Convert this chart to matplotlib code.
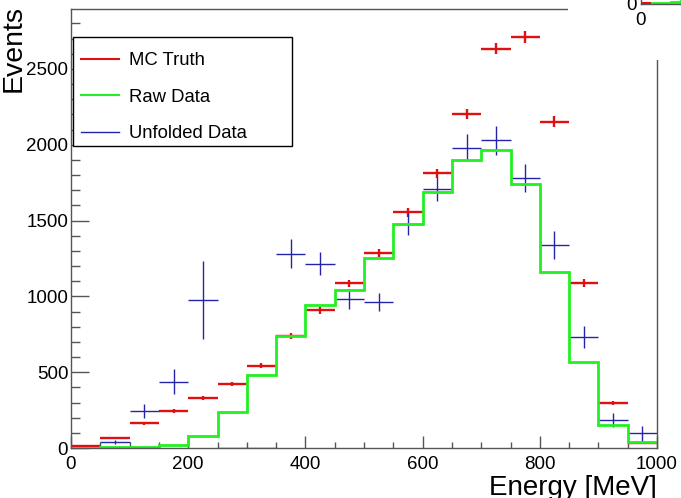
import matplotlib.pyplot as plt
import numpy as np
from matplotlib.lines import Line2D
from matplotlib.patches import Rectangle
from matplotlib.ticker import MultipleLocator

plt.rcParams["font.family"] = ["Liberation Sans", "DejaVu Sans"]

# 20 bins of 50 MeV from 0 to 1000
edges = np.arange(0, 1001, 50)
centers = edges[:-1] + 25

mc_truth = [10, 64, 164, 245, 329, 421, 544, 737, 908, 1085,
            1287, 1555, 1811, 2202, 2634, 2711, 2153, 1090, 298, 31]
mc_err = [2, 6, 10, 12, 14, 15, 17, 20, 23, 25,
          27, 30, 32, 35, 38, 39, 35, 25, 13, 4]

raw_data = [3, 5, 5, 20, 79, 235, 480, 737, 941, 1042,
            1250, 1474, 1689, 1901, 1967, 1743, 1158, 568, 149, 41]

unfolded = [0, 41, 245, 436, 974, 0, 0, 1281, 1215, 985,
            963, 1480, 1706, 1980, 2028, 1781, 1338, 732, 182, 97]
unfolded_err = [0, 13, 44, 82, 257, 0, 0, 95, 77, 66,
                60, 73, 80, 90, 93, 92, 90, 75, 46, 49]

red = "#e01010"
green = "#22f022"
blue = "#2424a8"
frame = "#555555"

W, H = 681, 498
fig = plt.figure(figsize=(W / 100, H / 100), dpi=100)
ax = fig.add_axes([71 / W, 1 - 448 / H, (657 - 71) / W, (448 - 9) / H])

ax.errorbar(centers, mc_truth, xerr=25, yerr=mc_err, fmt="none",
            ecolor=red, elinewidth=1.7, zorder=2)
ax.errorbar(centers, unfolded, xerr=25, yerr=unfolded_err, fmt="none",
            ecolor=blue, elinewidth=1.0, zorder=3)
ax.stairs(raw_data, edges, color=green, linewidth=2.0, baseline=None, zorder=4)

ax.set_xlim(0, 1000)
ax.set_ylim(0, 2895)
ax.xaxis.set_major_locator(MultipleLocator(200))
ax.xaxis.set_minor_locator(MultipleLocator(50))
ax.yaxis.set_major_locator(MultipleLocator(500))
ax.yaxis.set_minor_locator(MultipleLocator(100))
ax.tick_params(axis="both", which="both", direction="in", color=frame,
               width=1, labelsize=13.5)
ax.tick_params(axis="x", which="major", length=8.6, pad=6)
ax.tick_params(axis="x", which="minor", length=4.3)
ax.tick_params(axis="y", which="major", length=13, pad=2)
ax.tick_params(axis="y", which="minor", length=6.5)
for s in ax.spines.values():
    s.set_color(frame)
    s.set_linewidth(1)
    s.set_zorder(6)

# axis titles, ROOT style (right / top aligned)
fig.text(657 / W, 3 / H, "Energy [MeV]", fontsize=20, ha="right", va="baseline")
fig.text(1 / W, 1 - 5 / H, "Events", fontsize=20.5, rotation=90, ha="left", va="top")

# legend
handles = [Line2D([], [], color=red, lw=1.5),
           Line2D([], [], color=green, lw=1.5),
           Line2D([], [], color=blue, lw=1.0)]
leg = fig.legend(handles, ["MC Truth", "Raw Data", "Unfolded Data"],
                 loc="upper left", bbox_to_anchor=(72 / W, 1 - 43 / H),
                 frameon=False, fontsize=13.3, handlelength=2.05,
                 handletextpad=0.55, labelspacing=1.05, borderpad=0)
fig.add_artist(Rectangle((73 / W, 1 - 146 / H), (292 - 73) / W, (146 - 37) / H,
                         transform=fig.transFigure, facecolor="white",
                         edgecolor="black", linewidth=1, zorder=5))
leg.set_zorder(6)

# white pad in the top right corner with a small clipped sub-plot
fig.add_artist(Rectangle((568 / W, 1 - 60 / H), (W - 568) / W, 60 / H,
                         transform=fig.transFigure, facecolor="white",
                         edgecolor="none", zorder=7))
inset = fig.add_axes([641 / W, 1 - 4 / H, 200 / W, 300 / H], zorder=8)
inset.stairs(raw_data, edges, color=green, linewidth=2, baseline=None)
inset.errorbar(centers, mc_truth, xerr=25, fmt="none", ecolor=red, elinewidth=1.5)
inset.set_xlim(0, 1000)
inset.set_ylim(0, 2895)
inset.set_xticks([0])
inset.set_yticks([0])
inset.tick_params(labelsize=13.5, length=0)
inset.tick_params(axis="x", pad=6)
inset.tick_params(axis="y", pad=3)
for s in inset.spines.values():
    s.set_color(frame)
    s.set_linewidth(1)

fig.savefig("out.png", dpi=100)
